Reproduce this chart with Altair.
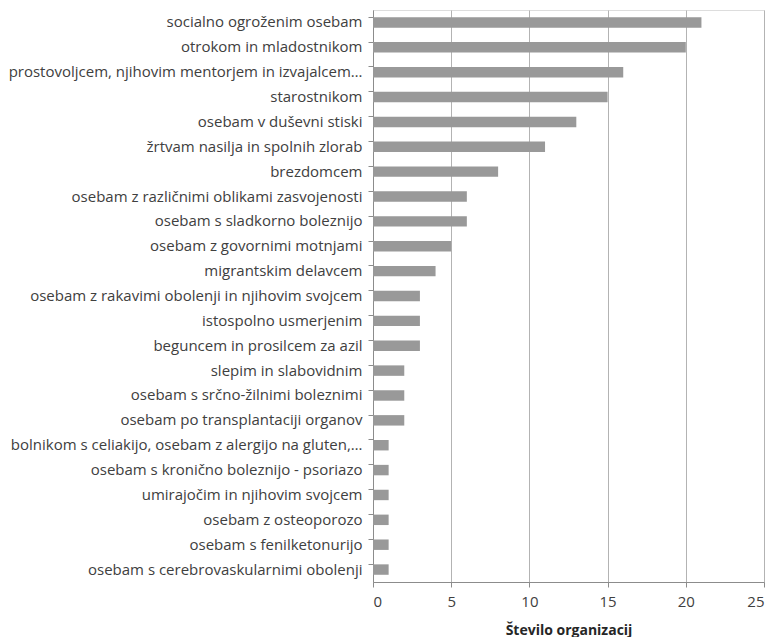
import altair as alt
import pandas as pd

categories = [
    "socialno ogroženim osebam",
    "otrokom in mladostnikom",
    "prostovoljcem, njihovim mentorjem in izvajalcem…",
    "starostnikom",
    "osebam v duševni stiski",
    "žrtvam nasilja in spolnih zlorab",
    "brezdomcem",
    "osebam z različnimi oblikami zasvojenosti",
    "osebam s sladkorno boleznijo",
    "osebam z govornimi motnjami",
    "migrantskim delavcem",
    "osebam z rakavimi obolenji in njihovim svojcem",
    "istospolno usmerjenim",
    "beguncem in prosilcem za azil",
    "slepim in slabovidnim",
    "osebam s srčno-žilnimi boleznimi",
    "osebam po transplantaciji organov",
    "bolnikom s celiakijo, osebam z alergijo na gluten,…",
    "osebam s kronično boleznijo - psoriazo",
    "umirajočim in njihovim svojcem",
    "osebam z osteoporozo",
    "osebam s fenilketonurijo",
    "osebam s cerebrovaskularnimi obolenji",
]
values = [21, 20, 16, 15, 13, 11, 8, 6, 6, 5, 4, 3, 3, 3, 2, 2, 2, 1, 1, 1, 1, 1, 1]

df = pd.DataFrame({"kategorija": categories, "stevilo": values})

FONT = "Open Sans"

chart = (
    alt.Chart(df)
    .mark_bar(color="#999999")
    .encode(
        x=alt.X(
            "stevilo:Q",
            scale=alt.Scale(domain=[0, 25], nice=False),
            axis=alt.Axis(
                title="Število organizacij",
                values=[0, 5, 10, 15, 20, 25],
                grid=True,
                gridColor="#b3b3b3",
                gridWidth=1,
                domainColor="#8c8c8c",
                tickColor="#8c8c8c",
                tickSize=5,
                labelFontSize=15,
                labelColor="#404040",
                labelFont=FONT,
                labelPadding=7,
                titleFont=FONT,
                titleFontSize=14,
                titleFontWeight="bold",
                titleColor="#262626",
                titlePadding=14,
            ),
        ),
        y=alt.Y(
            "kategorija:N",
            sort=categories,
            scale=alt.Scale(paddingInner=0.58, paddingOuter=0.29),
            axis=alt.Axis(
                title=None,
                bandPosition=0,
                tickSize=5,
                tickColor="#8c8c8c",
                domainColor="#8c8c8c",
                labelFontSize=15,
                labelColor="#404040",
                labelFont=FONT,
                labelLimit=400,
                labelPadding=6,
                grid=False,
            ),
        ),
    )
    .properties(width=391, height=572)
    .configure_view(stroke=None)
    .configure(background="white", padding={"left": 0, "top": 2, "right": 5, "bottom": 0})
)

chart.save("out.html", embed_options={"renderer": "svg", "actions": False})
